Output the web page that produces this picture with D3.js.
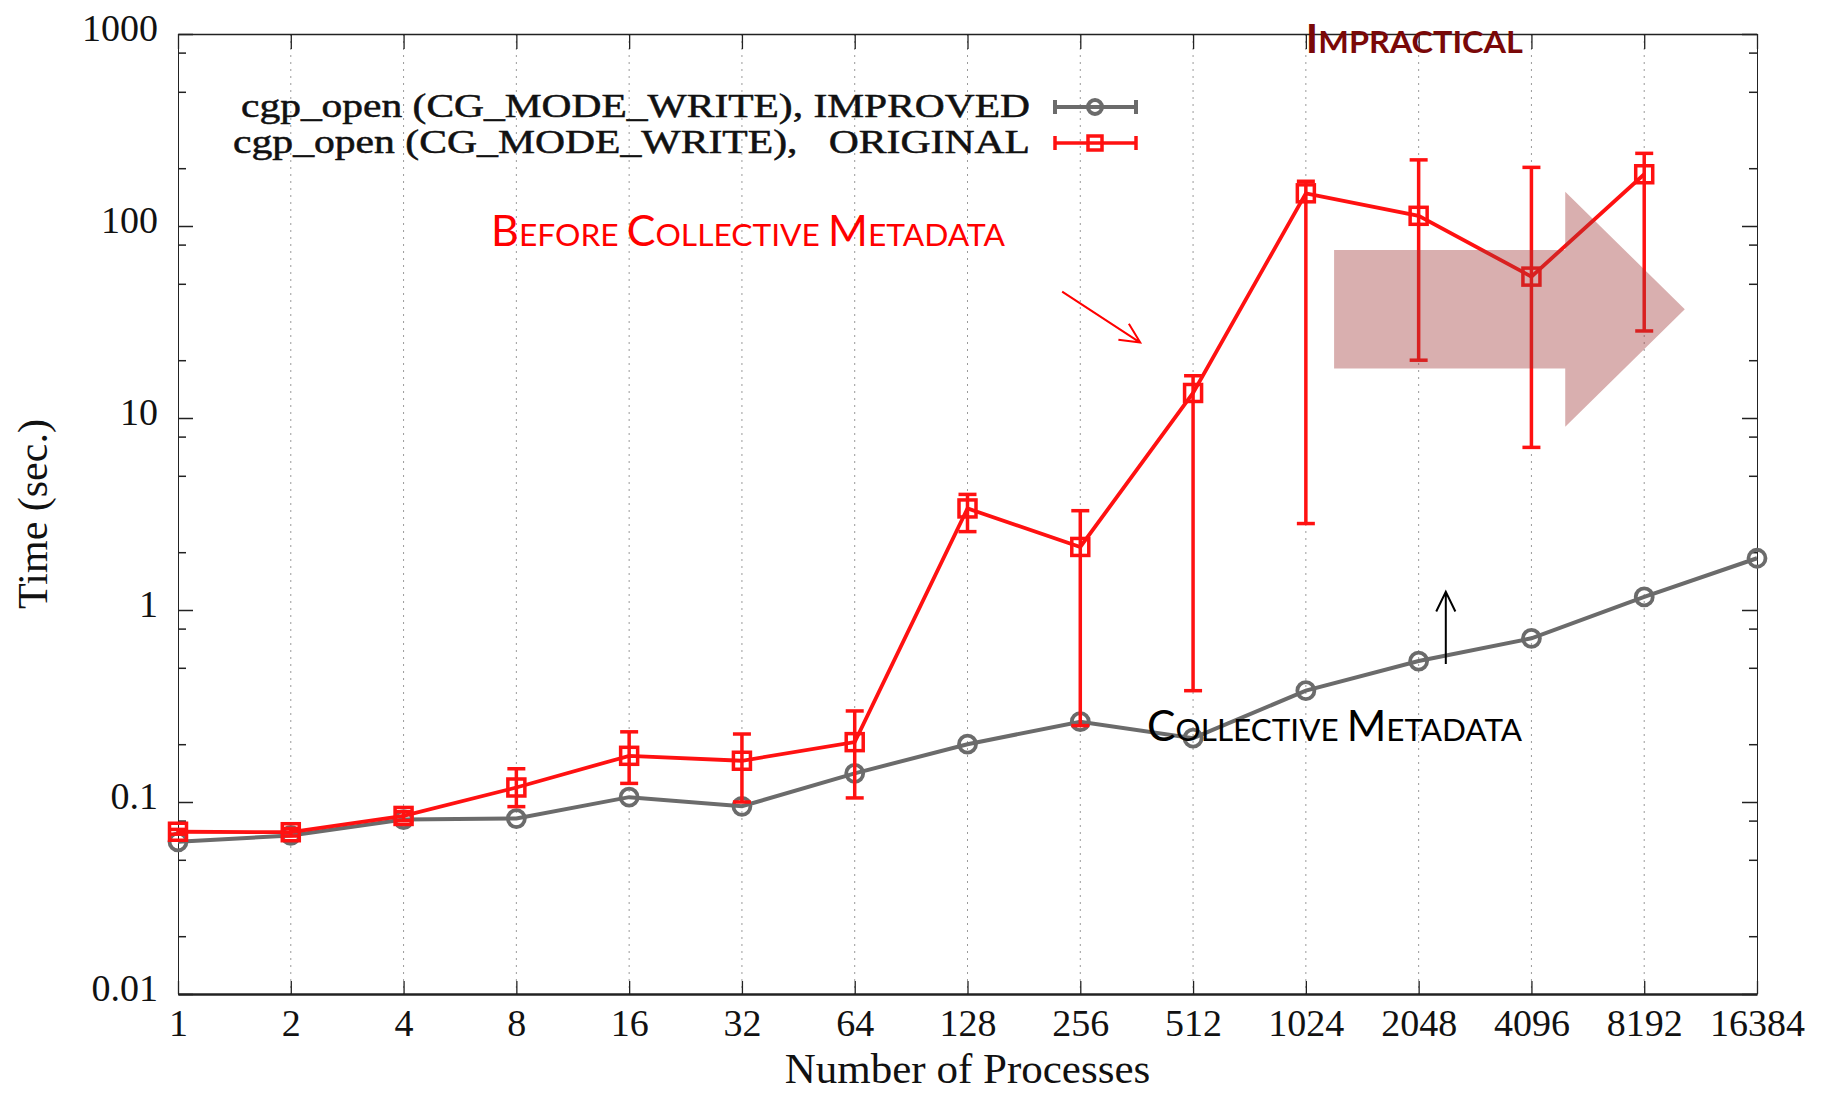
<!DOCTYPE html>
<html>
<head>
<meta charset="utf-8">
<script src="https://cdn.jsdelivr.net/npm/d3@7"></script>
<style>
  body { margin: 0; background: #fff; }
  svg { display: block; }
  .axis text { font-family: "Liberation Serif", "DejaVu Serif", serif; fill: #111; }
  .axis path, .axis line { stroke: #222; }
  .sc { font-family: Lato, "Open Sans", sans-serif; }
</style>
</head>
<body>
<div id="chart"></div>
<script>
const width = 1824,
  height = 1095,
  margin = { top: 34, bottom: 101, left: 178, right: 67 };

// number of processes (x categories)
const procs = [1, 2, 4, 8, 16, 32, 64, 128, 256, 512, 1024, 2048, 4096, 8192, 16384];

// cgp_open (CG_MODE_WRITE), IMPROVED  -- seconds
const improved = [0.062, 0.067, 0.081, 0.082, 0.106, 0.095, 0.141, 0.20, 0.262, 0.215, 0.38, 0.542, 0.712, 1.17, 1.86];

// cgp_open (CG_MODE_WRITE), ORIGINAL -- seconds, with min / max
const original = [0.070, 0.0696, 0.0846, 0.119, 0.174, 0.164, 0.205, 3.38, 2.13, 13.5, 148, 113, 54.5, 186];
const originalLow = [0.068, 0.0665, 0.080, 0.0946, 0.125, 0.100, 0.105, 2.56, 0.25, 0.38, 2.82, 20.0, 7.03, 28.4];
const originalHigh = [0.072, 0.0728, 0.089, 0.149, 0.232, 0.226, 0.298, 4.00, 3.29, 16.6, 171, 221, 202, 239];

const yMajor = [0.01, 0.1, 1, 10, 100, 1000];
const yMinor = [0.02, 0.05, 0.08, 0.2, 0.5, 0.8, 2, 5, 8, 20, 50, 80, 200, 500, 800];
const yLabels = ["0.01", "0.1", "1", "10", "100", "1000"];

const legendLabels = ["cgp_open (CG_MODE_WRITE), IMPROVED", "cgp_open (CG_MODE_WRITE),   ORIGINAL"];

const grey = "#6b6b6b", red = "#ff1111";

const svg = d3.select("#chart").append("svg")
  .attr("width", width)
  .attr("height", height);

const x = d3.scaleLog().base(2)
  .domain([1, 16384])
  .range([margin.left, width - margin.right]);

const y = d3.scaleLog()
  .domain([0.01, 1000])
  .range([height - margin.bottom, margin.top]);

// vertical dotted grid
svg.append("g")
  .selectAll("line")
  .data(procs.slice(1, -1))
  .join("line")
  .attr("x1", d => x(d)).attr("x2", d => x(d))
  .attr("y1", margin.top).attr("y2", height - margin.bottom)
  .attr("stroke", "#9a9a9a")
  .attr("stroke-width", 1)
  .attr("stroke-dasharray", "2,5");

// axes
const left = svg.append("g")
  .attr("class", "axis")
  .attr("transform", `translate(${margin.left},0)`)
  .call(d3.axisLeft(y).tickValues(yMajor).tickSize(-15).tickSizeOuter(0).tickPadding(20)
    .tickFormat((d, i) => yLabels[i]));
left.selectAll("text").style("font-size", "38px").attr("dy", "0.16em");
left.selectAll("line").attr("stroke-width", 1.5);

svg.append("g")
  .attr("class", "axis")
  .attr("transform", `translate(${margin.left},0)`)
  .call(d3.axisLeft(y).tickValues(yMinor).tickSize(-8).tickSizeOuter(0).tickFormat(""))
  .call(g => g.select(".domain").remove())
  .selectAll("line").attr("stroke-width", 1.5);

svg.append("g")
  .attr("class", "axis")
  .attr("transform", `translate(${width - margin.right},0)`)
  .call(d3.axisRight(y).tickValues(yMajor).tickSize(-15).tickSizeOuter(0).tickFormat(""))
  .selectAll("line").attr("stroke-width", 1.5);

svg.append("g")
  .attr("class", "axis")
  .attr("transform", `translate(${width - margin.right},0)`)
  .call(d3.axisRight(y).tickValues(yMinor).tickSize(-8).tickSizeOuter(0).tickFormat(""))
  .call(g => g.select(".domain").remove())
  .selectAll("line").attr("stroke-width", 1.5);

const bottom = svg.append("g")
  .attr("class", "axis")
  .attr("transform", `translate(0,${height - margin.bottom})`)
  .call(d3.axisBottom(x).tickValues(procs).tickSize(-13).tickSizeOuter(0).tickPadding(15)
    .tickFormat(d3.format("d")));
bottom.selectAll("text").style("font-size", "38px");
bottom.select(".domain").attr("stroke-width", 2.5);
bottom.selectAll("line").attr("stroke-width", 1.3);

svg.append("g")
  .attr("class", "axis")
  .attr("transform", `translate(0,${margin.top})`)
  .call(d3.axisTop(x).tickValues(procs).tickSize(-15).tickSizeOuter(0).tickFormat(""))
  .call(g => g.select(".domain").attr("stroke-width", 1.5))
  .selectAll("line").attr("stroke-width", 1.3);

// axis titles
svg.append("text")
  .attr("x", (margin.left + width - margin.right) / 2)
  .attr("y", 1083)
  .attr("text-anchor", "middle")
  .style("font-family", "Liberation Serif, serif")
  .style("font-size", "43px")
  .attr("fill", "#111")
  .text("Number of Processes");

svg.append("text")
  .attr("transform", `translate(47,${(margin.top + height - margin.bottom) / 2}) rotate(-90)`)
  .attr("text-anchor", "middle")
  .style("font-family", "Liberation Serif, serif")
  .style("font-size", "42px")
  .attr("fill", "#111")
  .text("Time (sec.)");

// IMPROVED series
const lineImp = d3.line().x((d, i) => x(procs[i])).y(d => y(d));
svg.append("path")
  .attr("d", lineImp(improved))
  .attr("fill", "none")
  .attr("stroke", grey)
  .attr("stroke-width", 4);

svg.append("g")
  .selectAll("circle")
  .data(improved)
  .join("circle")
  .attr("cx", (d, i) => x(procs[i]))
  .attr("cy", d => y(d))
  .attr("r", 8.5)
  .attr("fill", "none")
  .attr("stroke", grey)
  .attr("stroke-width", 3.8);

// ORIGINAL series
svg.append("path")
  .attr("d", lineImp(original))
  .attr("fill", "none")
  .attr("stroke", red)
  .attr("stroke-width", 3.8);

const err = svg.append("g")
  .attr("stroke", red)
  .attr("stroke-width", 3.5)
  .selectAll("g")
  .data(original)
  .join("g");

err.append("line")
  .attr("x1", (d, i) => x(procs[i])).attr("x2", (d, i) => x(procs[i]))
  .attr("y1", (d, i) => y(originalLow[i])).attr("y2", (d, i) => y(originalHigh[i]));
err.append("line")
  .attr("x1", (d, i) => x(procs[i]) - 9).attr("x2", (d, i) => x(procs[i]) + 9)
  .attr("y1", (d, i) => y(originalLow[i])).attr("y2", (d, i) => y(originalLow[i]));
err.append("line")
  .attr("x1", (d, i) => x(procs[i]) - 9).attr("x2", (d, i) => x(procs[i]) + 9)
  .attr("y1", (d, i) => y(originalHigh[i])).attr("y2", (d, i) => y(originalHigh[i]));

svg.append("g")
  .selectAll("rect")
  .data(original)
  .join("rect")
  .attr("x", (d, i) => x(procs[i]) - 8.5)
  .attr("y", d => y(d) - 8.5)
  .attr("width", 17)
  .attr("height", 17)
  .attr("fill", "none")
  .attr("stroke", red)
  .attr("stroke-width", 3.5);

// legend
const legend = svg.append("g");
legend.selectAll("text")
  .data(legendLabels)
  .join("text")
  .attr("x", 1030)
  .attr("y", (d, i) => 117 + i * 36)
  .attr("text-anchor", "end")
  .attr("textLength", (d, i) => i === 0 ? 789 : 797)
  .attr("lengthAdjust", "spacingAndGlyphs")
  .style("white-space", "pre")
  .style("font-family", "Liberation Serif, serif")
  .style("font-size", "33px")
  .attr("fill", "#111")
  .attr("stroke", "#111")
  .attr("stroke-width", 0.5)
  .text(d => d);

[grey, red].forEach((c, i) => {
  const ly = 107 + i * 36;
  const g = legend.append("g").attr("stroke", c).attr("stroke-width", i === 0 ? 4 : 3.5).attr("fill", "none");
  g.append("line").attr("x1", 1055).attr("x2", 1136).attr("y1", ly).attr("y2", ly);
  g.append("line").attr("x1", 1055).attr("x2", 1055).attr("y1", ly - 7).attr("y2", ly + 7);
  g.append("line").attr("x1", 1136).attr("x2", 1136).attr("y1", ly - 7).attr("y2", ly + 7);
  if (i === 0) g.append("circle").attr("cx", 1095).attr("cy", ly).attr("r", 7);
  else g.append("rect").attr("x", 1088).attr("y", ly - 7).attr("width", 14).attr("height", 14);
});

// big translucent "impractical" arrow, anchored in data space
const arrowPts = [
  [1218, 75], [5042, 75], [5042, 151], [10512, 36.8],
  [5042, 9.0], [5042, 18.1], [1218, 18.1]
];
svg.append("path")
  .attr("d", d3.line().x(d => x(d[0])).y(d => y(d[1])).curve(d3.curveLinearClosed)(arrowPts))
  .attr("fill", "rgb(160,55,55)")
  .attr("fill-opacity", 0.4);

// small-caps annotations
function smallCaps(sel, parts, big, small) {
  parts.forEach(p => {
    sel.append("tspan").style("font-size", big + "px").text(p[0]);
    if (p[1]) sel.append("tspan").style("font-size", small + "px").text(p[1]);
  });
}

const t1 = svg.append("text").attr("class", "sc")
  .attr("x", x(6.85)).attr("y", y(79))
  .attr("fill", "#ff0000")
  .attr("textLength", 514).attr("lengthAdjust", "spacingAndGlyphs");
smallCaps(t1, [["B", "EFORE "], ["C", "OLLECTIVE "], ["M", "ETADATA"]], 42, 31);

const t2 = svg.append("text").attr("class", "sc")
  .attr("x", x(386)).attr("y", y(0.208))
  .attr("fill", "#000")
  .attr("textLength", 375).attr("lengthAdjust", "spacingAndGlyphs");
smallCaps(t2, [["C", "OLLECTIVE "], ["M", "ETADATA"]], 42, 31);

const t3 = svg.append("text").attr("class", "sc")
  .attr("x", x(1024)).attr("y", y(793))
  .attr("fill", "#7a0808")
  .style("font-weight", 700)
  .attr("textLength", 217).attr("lengthAdjust", "spacingAndGlyphs");
smallCaps(t3, [["I", "MPRACTICAL"]], 40, 31);

// pointer arrows
function pointer(x0, y0, x1, y1, color) {
  const px0 = x(x0), py0 = y(y0), px1 = x(x1), py1 = y(y1);
  const a = Math.atan2(py1 - py0, px1 - px0), h = 22, s = 0.45;
  svg.append("path")
    .attr("d", `M${px0},${py0}L${px1},${py1}` +
      `M${px1 - h * Math.cos(a - s)},${py1 - h * Math.sin(a - s)}L${px1},${py1}` +
      `L${px1 - h * Math.cos(a + s)},${py1 - h * Math.sin(a + s)}`)
    .attr("fill", "none")
    .attr("stroke", color)
    .attr("stroke-width", 2);
}
pointer(229, 45.5, 370, 24.7, "#ff0000");
pointer(2420, 0.524, 2420, 1.245, "#000");
</script>
</body>
</html>
